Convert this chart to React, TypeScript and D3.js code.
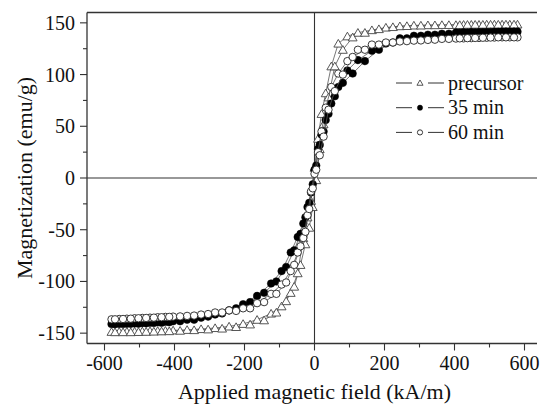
import React from "react";
import * as d3 from "d3";

const H_DOWN = [580, 558, 536, 514, 492, 470, 448, 426, 404, 364, 324, 284, 244, 204, 164, 124, 94, 68, 48, 32, 20, 10, 0, -10, -20, -32, -48, -68, -94, -124, -164, -204, -244, -284, -324, -364, -404, -426, -448, -470, -492, -514, -536, -558, -580];
const H_UP = [-570, -547, -525, -503, -481, -459, -437, -415, -384, -344, -304, -264, -224, -184, -144, -109, -81, -58, -40, -26, -15, -5, 5, 15, 26, 40, 58, 81, 109, 144, 184, 224, 264, 304, 344, 384, 415, 437, 459, 481, 503, 525, 547, 570];

const PRECURSOR_DOWN = [148.5, 148.5, 148.5, 148.5, 148.5, 148.3, 148.3, 148.2, 148, 148, 147.8, 147.5, 146.8, 145.5, 143, 140.5, 137, 130, 108, 82, 62, 38, 10, -22, -38, -58, -92, -111, -124, -131, -137, -141, -143.5, -145, -146, -146.8, -147.3, -147.6, -147.8, -148, -148.2, -148.4, -148.5, -148.6, -148.7];
const PRECURSOR_UP = [-149, -149, -149, -148.8, -148.6, -148.4, -148.2, -148, -147.6, -147, -146.3, -145.5, -144, -141.5, -137.5, -130, -119, -105, -84, -64, -48, -28, -2, 28, 52, 78, 108, 124, 136, 140.5, 144, 146, 147, 147.5, 147.8, 148, 148, 148.2, 148.3, 148.3, 148.4, 148.4, 148.5, 148.5];

const MIN35_DOWN = [141.5, 141.5, 141.5, 141.3, 141.2, 141, 141, 140.8, 140.5, 139.5, 138.5, 137.5, 135, 130, 123, 114, 104, 88, 72, 56, 42, 28, 8, -14, -28, -44, -57, -72, -90, -102, -114, -122, -128, -132, -135, -137, -138.5, -139, -139.5, -140, -140.3, -140.6, -140.8, -141, -141.2];
const MIN35_UP = [-141.3, -141.2, -141, -140.8, -140.5, -140.2, -140, -139.5, -138.5, -137, -134, -131, -126, -120, -111, -100, -86, -70, -54, -38, -24, -6, 12, 32, 45, 62, 79, 92, 101, 113, 124, 131, 135, 137.5, 138.5, 139.5, 140.3, 140.6, 140.8, 141, 141.2, 141.3, 141.5, 141.5];

const MIN60_DOWN = [136, 136, 136, 135.8, 135.6, 135.4, 135.2, 135, 134.8, 134.5, 133.5, 132.8, 132, 131, 129, 124, 113, 101, 88, 68, 45, 25, 4, -13, -36, -58, -72, -90, -103, -112, -121, -126, -128, -130, -132, -133.3, -134, -134.3, -134.6, -135, -135.3, -135.6, -136, -136.3, -136.6];
const MIN60_UP = [-136.6, -136.3, -136, -135.6, -135.3, -135, -134.6, -134.3, -133.8, -133, -131.5, -130, -128.5, -126, -120, -112, -101, -84, -66, -52, -30, -10, 8, 22, 40, 66, 84, 100, 117, 124, 129, 131, 132.3, 133, 133.7, 134.5, 135, 135.2, 135.4, 135.6, 135.8, 136, 136, 136];

const SERIES_NAMES = ["precursor", "35 min", "60 min"];
const X_TICKS = [-600, -400, -200, 0, 200, 400, 600];
const X_MINOR = [-500, -300, -100, 100, 300, 500];
const Y_TICKS = [-150, -100, -50, 0, 50, 100, 150];
const Y_MINOR = [-125, -75, -25, 25, 75, 125];

const TS = { fontFamily: "Liberation Serif" };

export default function App() {
  const x = d3.scaleLinear().domain([-650, 650]).range([87, 542]);
  const y = d3.scaleLinear().domain([-160, 160]).range([343.5, 12.5]);

  const series = [
    { name: SERIES_NAMES[0], down: PRECURSOR_DOWN, up: PRECURSOR_UP, kind: "tri" },
    { name: SERIES_NAMES[1], down: MIN35_DOWN, up: MIN35_UP, kind: "fill" },
    { name: SERIES_NAMES[2], down: MIN60_DOWN, up: MIN60_UP, kind: "open" },
  ];

  const line = d3.line<[number, number]>().x(d => x(d[0])).y(d => y(d[1]));
  const tri = d3.symbol().type(d3.symbolTriangle).size(34)();
  const triSmall = d3.symbol().type(d3.symbolTriangle).size(16)();

  const marker = (kind: string, cx: number, cy: number, key: any, small = false) => {
    if (kind === "tri") {
      return <path key={key} d={small ? triSmall! : tri!} transform={`translate(${cx},${cy + (small ? 0.5 : 1)})`} fill="white" stroke="#444" strokeWidth={0.9} />;
    }
    if (kind === "fill") {
      return <circle key={key} cx={cx} cy={cy} r={small ? 2.6 : 3.8} fill="#000" stroke="#000" strokeWidth={0.5} />;
    }
    return <circle key={key} cx={cx} cy={cy} r={small ? 2.6 : 3.7} fill="white" stroke="#222" strokeWidth={0.9} />;
  };

  const x0 = x.range()[0];
  const x1 = 537;
  const yTop = y.range()[1];
  const yBot = y.range()[0];

  return (
    <svg width={541} height={405} style={{ position: "absolute", left: 0, top: 0, background: "white" }}>
      <defs>
        <clipPath id="plot">
          <rect x={x0} y={yTop} width={x1 - x0} height={yBot - yTop} />
        </clipPath>
      </defs>
      <rect x={0} y={0} width={541} height={405} fill="white" />
      <line x1={x(0)} x2={x(0)} y1={yTop} y2={yBot} stroke="#333" strokeWidth={1.1} />
      <line x1={x0} x2={x1} y1={y(0)} y2={y(0)} stroke="#333" strokeWidth={1.1} />

      <g clipPath="url(#plot)">
        {series.map((s, si) => {
          const pts: [number, number][] = H_DOWN.map((h, i) => [h, s.down[i]] as [number, number])
            .concat(H_UP.map((h, i) => [h, s.up[i]] as [number, number]));
          return (
            <g key={si}>
              <path d={line(pts)!} fill="none" stroke="#555" strokeWidth={0.8} />
              {pts.map((p, i) => marker(s.kind, x(p[0]), y(p[1]), i))}
            </g>
          );
        })}
      </g>

      <line x1={x0} x2={x0} y1={yTop} y2={yBot} stroke="#333" strokeWidth={1.3} />
      <line x1={x0} x2={x1} y1={yTop} y2={yTop} stroke="#333" strokeWidth={1.3} />
      <line x1={x0} x2={x1} y1={yBot} y2={yBot} stroke="#333" strokeWidth={1.3} />

      {X_TICKS.map(t => (
        <g key={"xt" + t}>
          <line x1={x(t)} x2={x(t)} y1={yBot} y2={yBot + 7} stroke="#333" strokeWidth={1.1} />
          <text x={x(t)} y={370} textAnchor="middle" fontSize={20} fill="#111" style={TS}>{t}</text>
        </g>
      ))}
      {X_MINOR.map(t => (
        <line key={"xm" + t} x1={x(t)} x2={x(t)} y1={yBot} y2={yBot + 4} stroke="#333" strokeWidth={1.1} />
      ))}
      {Y_TICKS.map(t => (
        <g key={"yt" + t}>
          <line x1={x0 - 7} x2={x0} y1={y(t)} y2={y(t)} stroke="#333" strokeWidth={1.1} />
          <text x={x0 - 12} y={y(t)} dy="0.35em" textAnchor="end" fontSize={20} fill="#111" style={TS}>{t}</text>
        </g>
      ))}
      {Y_MINOR.map(t => (
        <line key={"ym" + t} x1={x0 - 4} x2={x0} y1={y(t)} y2={y(t)} stroke="#333" strokeWidth={1.1} />
      ))}

      <text x={x(0)} y={399} textAnchor="middle" fontSize={22} fill="#111" style={TS}>Applied magnetic field (kA/m)</text>
      <text transform={`translate(32,${(yTop + yBot) / 2}) rotate(-90)`} textAnchor="middle" fontSize={22} fill="#111" style={TS}>Magnetization (emu/g)</text>

      {series.map((s, i) => {
        const ly = 83 + i * 24.7;
        return (
          <g key={"lg" + i}>
            <line x1={396} x2={412} y1={ly} y2={ly} stroke="#333" strokeWidth={1} />
            <line x1={428} x2={444} y1={ly} y2={ly} stroke="#333" strokeWidth={1} />
            {marker(s.kind, 420, ly, "m", true)}
            <text x={448} y={ly} dy="0.33em" fontSize={20} fill="#111" style={TS}>{s.name}</text>
          </g>
        );
      })}
    </svg>
  );
}
